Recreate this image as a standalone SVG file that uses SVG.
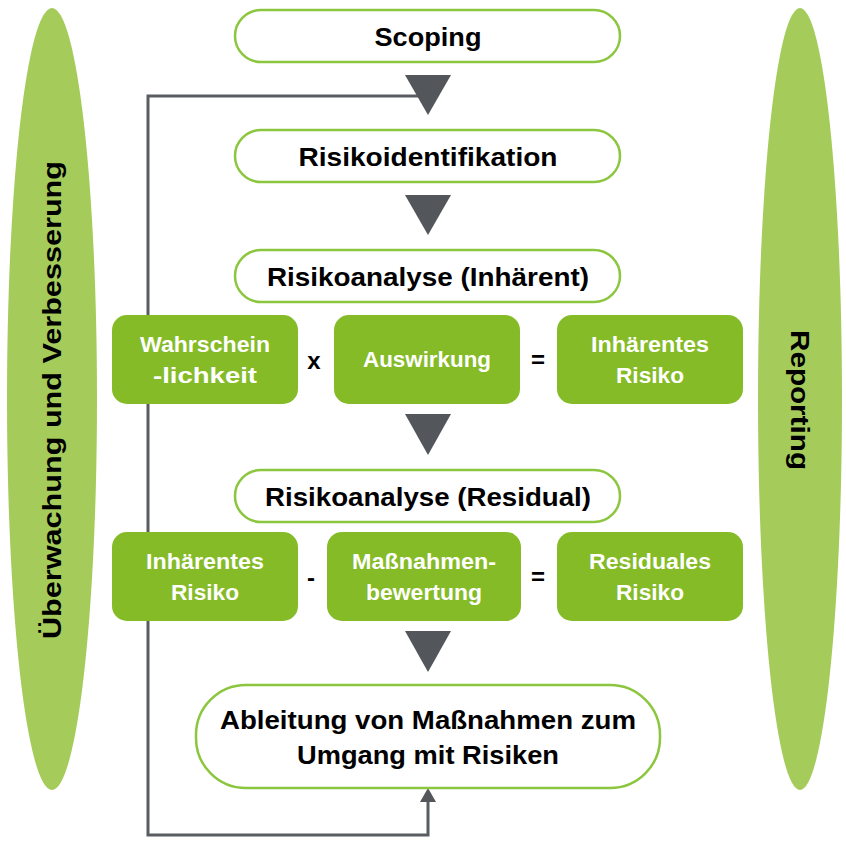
<svg xmlns="http://www.w3.org/2000/svg" width="846" height="843" viewBox="0 0 846 843">
<style>
.pill{fill:#fff;stroke:#8cc63f;stroke-width:2.5}
.box{fill:#84bb26}
.side{fill:#a5cc5b}
.tri{fill:#53565a}
.t{font-family:"Liberation Sans",Arial,sans-serif;font-weight:bold;text-anchor:middle;fill:#000}
.bt{font-family:"Liberation Sans",Arial,sans-serif;font-weight:bold;text-anchor:middle;fill:#fff;font-size:22px}
.op{font-family:"Liberation Sans",Arial,sans-serif;font-weight:bold;text-anchor:middle;fill:#000;font-size:24px}
.line{fill:none;stroke:#595c60;stroke-width:3}
</style>
<rect width="846" height="843" fill="#fff"/>
<g id="side-left"><ellipse class="side" cx="52" cy="399" rx="45" ry="391"/>
<text class="t" font-size="26" transform="translate(61,400) rotate(-90)" textLength="478" lengthAdjust="spacingAndGlyphs">Überwachung und Verbesserung</text></g>
<g id="side-right"><ellipse class="side" cx="800" cy="399" rx="42" ry="391"/>
<text class="t" font-size="26" transform="translate(791,400) rotate(90)" textLength="140" lengthAdjust="spacingAndGlyphs">Reporting</text></g>
<g id="connectors">
<polyline class="line" points="428,800 428,835 148,835 148,96 418,96"/>
<polygon class="tri" points="428,788 420,802 436,802"/>
<polygon class="tri" points="405,75 451,75 428,115"/>
<polygon class="tri" points="405,195 451,195 428,235"/>
<polygon class="tri" points="405,414 451,414 428,455"/>
<polygon class="tri" points="405,631 451,631 428,672"/>
</g>
<g id="scoping"><rect class="pill" x="235" y="10" width="385" height="52" rx="26"/><text class="t" font-size="26" x="428" y="46" textLength="107" lengthAdjust="spacingAndGlyphs">Scoping</text></g>
<g id="risikoidentifikation"><rect class="pill" x="235" y="130" width="385" height="52" rx="26"/><text class="t" font-size="26" x="428" y="166" textLength="259" lengthAdjust="spacingAndGlyphs">Risikoidentifikation</text></g>
<g id="risikoanalyse-inh"><rect class="pill" x="235" y="250" width="385" height="52" rx="26"/><text class="t" font-size="26" x="428" y="286" textLength="322" lengthAdjust="spacingAndGlyphs">Risikoanalyse (Inhärent)</text></g>
<g id="wahrscheinlichkeit"><rect class="box" x="112" y="315" width="186" height="89" rx="15"/><text class="bt" x="205" y="352" textLength="130" lengthAdjust="spacingAndGlyphs">Wahrschein</text><text class="bt" x="205" y="383" textLength="104" lengthAdjust="spacingAndGlyphs">-lichkeit</text></g>
<g id="op-x"><text class="op" x="314" y="369">x</text></g>
<g id="auswirkung"><rect class="box" x="334" y="315" width="186" height="89" rx="15"/><text class="bt" x="427" y="367" textLength="128" lengthAdjust="spacingAndGlyphs">Auswirkung</text></g>
<g id="op-eq1"><text class="op" x="538" y="368">=</text></g>
<g id="inhaerentes-risiko-1"><rect class="box" x="557" y="315" width="186" height="89" rx="15"/><text class="bt" x="650" y="352" textLength="118" lengthAdjust="spacingAndGlyphs">Inhärentes</text><text class="bt" x="650" y="383" textLength="68" lengthAdjust="spacingAndGlyphs">Risiko</text></g>
<g id="risikoanalyse-res"><rect class="pill" x="235" y="470" width="385" height="52" rx="26"/><text class="t" font-size="26" x="428" y="506" textLength="326" lengthAdjust="spacingAndGlyphs">Risikoanalyse (Residual)</text></g>
<g id="inhaerentes-risiko-2"><rect class="box" x="112" y="532" width="186" height="89" rx="15"/><text class="bt" x="205" y="569" textLength="118" lengthAdjust="spacingAndGlyphs">Inhärentes</text><text class="bt" x="205" y="600" textLength="68" lengthAdjust="spacingAndGlyphs">Risiko</text></g>
<g id="op-minus"><text class="op" x="311" y="586">-</text></g>
<g id="massnahmenbewertung"><rect class="box" x="327" y="532" width="194" height="89" rx="15"/><text class="bt" x="424" y="569" textLength="144" lengthAdjust="spacingAndGlyphs">Maßnahmen-</text><text class="bt" x="424" y="600" textLength="116" lengthAdjust="spacingAndGlyphs">bewertung</text></g>
<g id="op-eq2"><text class="op" x="538" y="585">=</text></g>
<g id="residuales-risiko"><rect class="box" x="557" y="532" width="186" height="89" rx="15"/><text class="bt" x="650" y="569" textLength="122" lengthAdjust="spacingAndGlyphs">Residuales</text><text class="bt" x="650" y="600" textLength="68" lengthAdjust="spacingAndGlyphs">Risiko</text></g>
<g id="ableitung"><rect class="pill" x="196" y="685" width="464" height="103" rx="50"/><text class="t" font-size="26" x="428" y="729" textLength="416" lengthAdjust="spacingAndGlyphs">Ableitung von Maßnahmen zum</text><text class="t" font-size="26" x="428" y="764" textLength="262" lengthAdjust="spacingAndGlyphs">Umgang mit Risiken</text></g>
</svg>
